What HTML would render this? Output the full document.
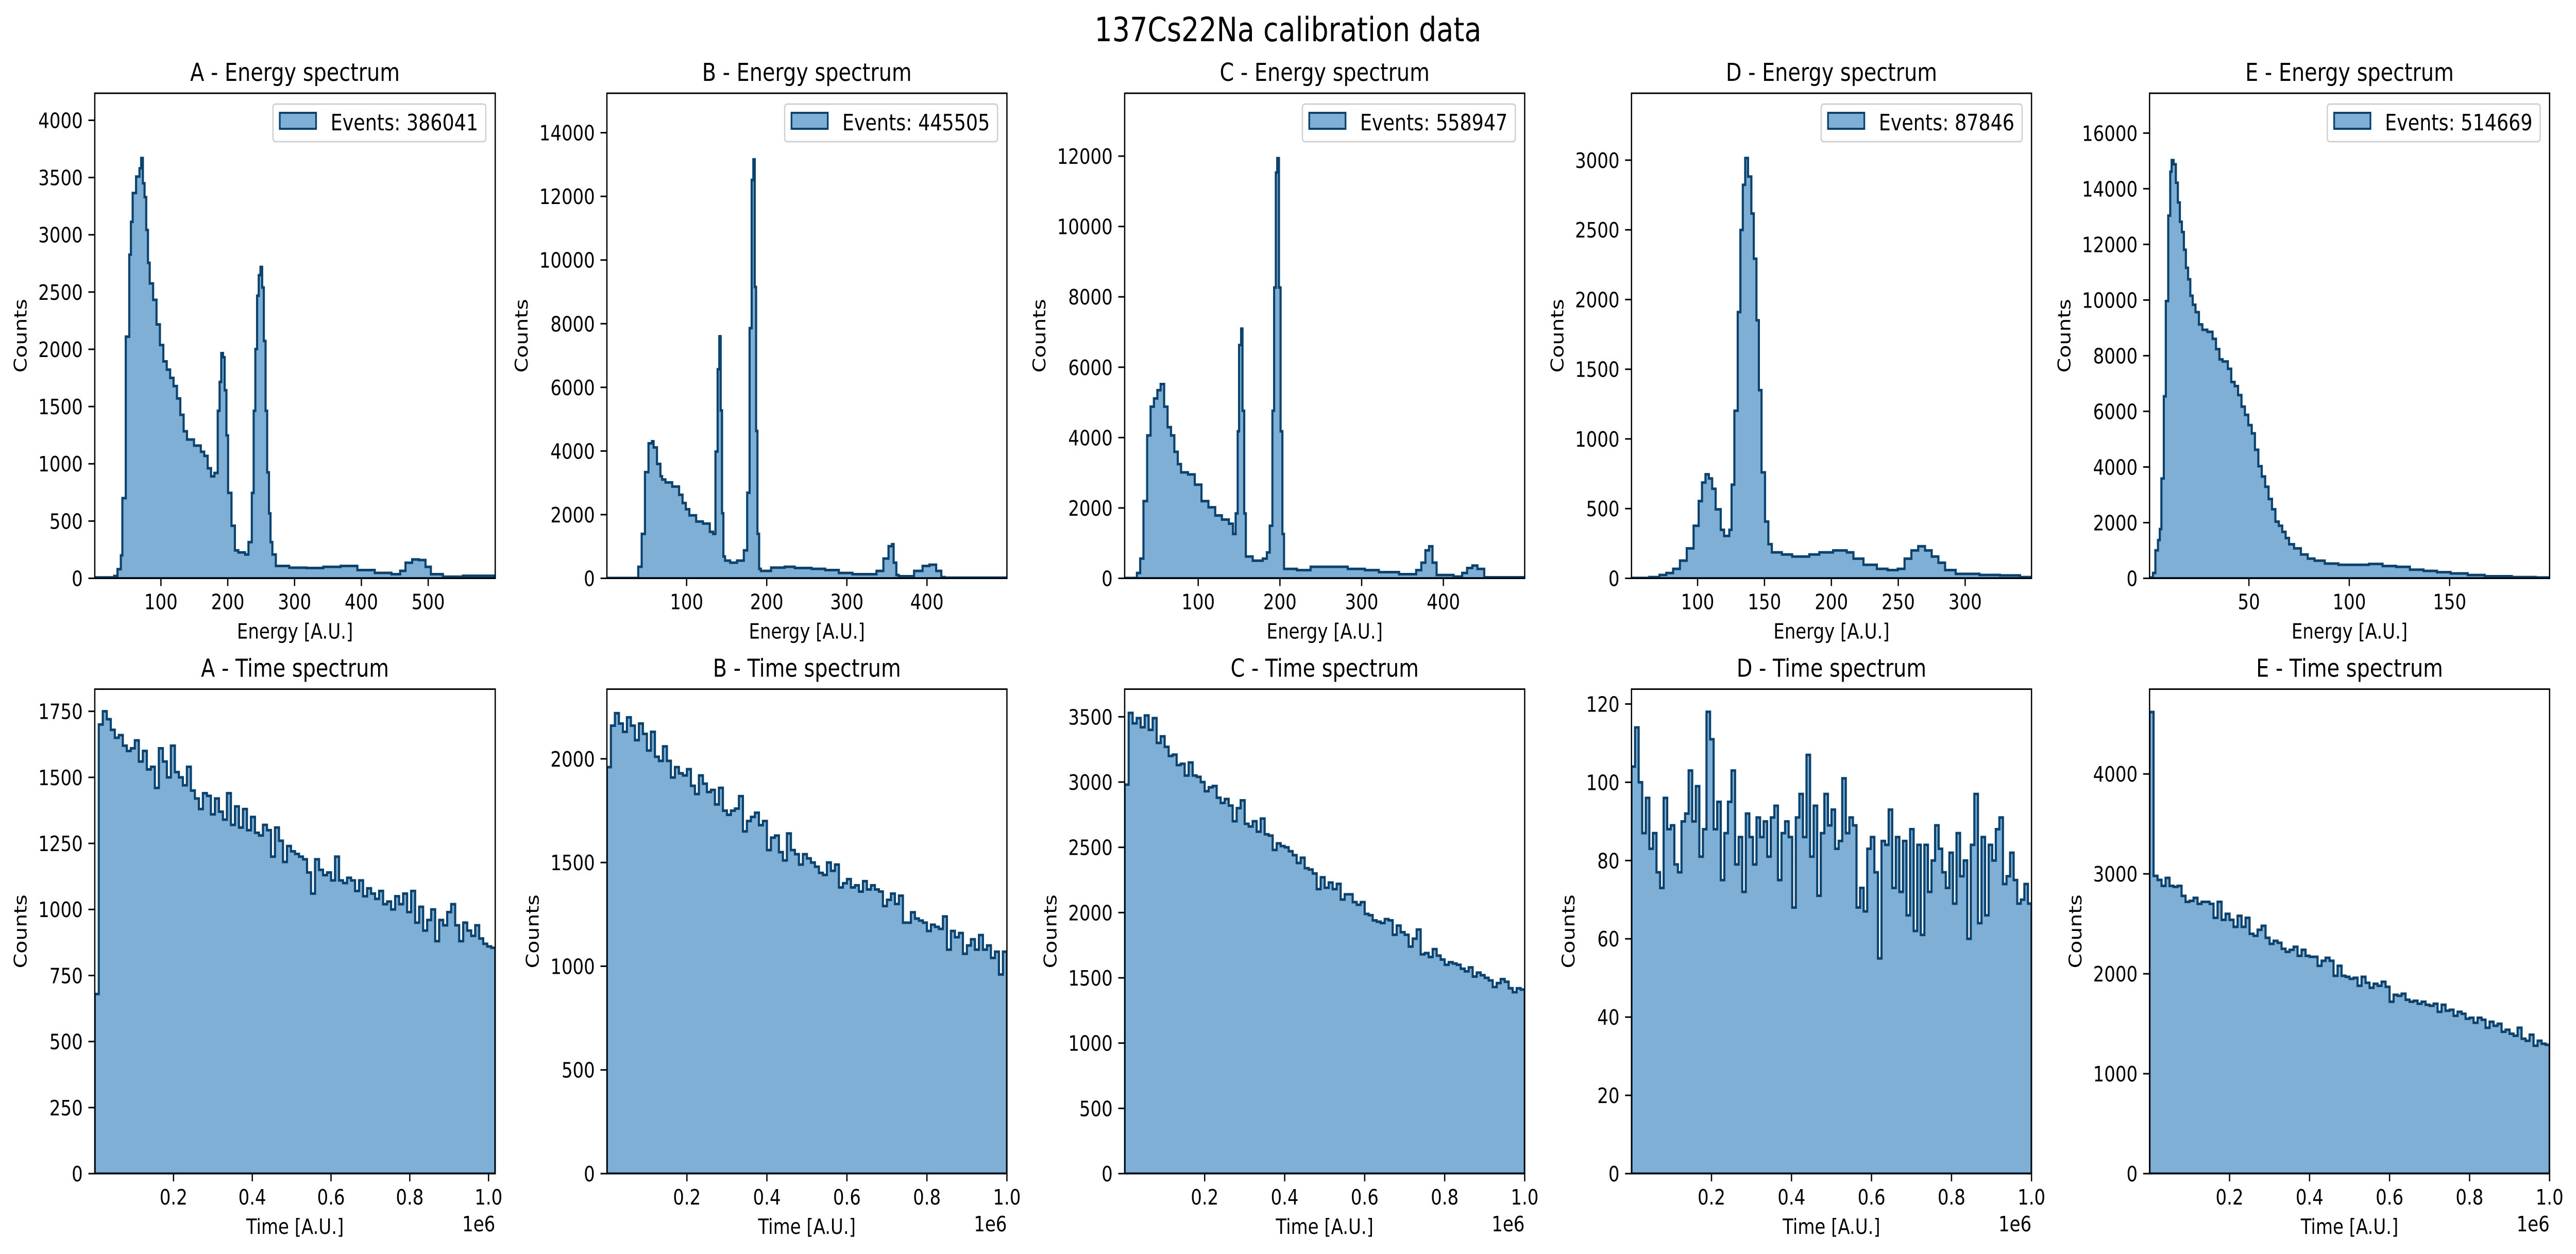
<!DOCTYPE html>
<html>
<head>
<meta charset="utf-8">
<meta name="viewport" content="width=device-width, initial-scale=1">
<style>
  html,body{margin:0;padding:0;background:#fff;width:100%;height:100%;overflow:hidden;}
  svg{display:block;width:100vw;height:100vh;}
  text{font-family:"DejaVu Sans","Liberation Sans",sans-serif;fill:#000;}
</style>
</head>
<body>
<svg id="fig" viewBox="0 0 6034 2434" preserveAspectRatio="none" xmlns="http://www.w3.org/2000/svg" overflow="hidden">
  <rect x="0" y="0" width="6034" height="2434" fill="#fff"/>
  <text x="3017" y="80" font-size="65" text-anchor="middle">137Cs22Na calibration data</text>
</svg>
<script>
// ---------- Energy spectra data (bin left edges [A.U.] and counts) ----------
const aEnergyBins = [1,30,35,40,42.3,47.4,52.6,55.1,57.7,62.8,67.9,70.4,73,75.5,78,80.6,83.2,88.3,93.4,98.5,103.6,108.7,113.8,118.9,124,129,134,139,149.5,159.7,164.8,170,175,180,185,187.8,190.3,192.9,195.4,198,200.5,205.6,210.7,215.8,226,231,236,238.8,241.3,243.9,246.4,249,251.5,254,256.6,259,261.7,264,266.8,272,292,318,343,369,394,420,445,458,466,476,486,496,504,522,552];
const aEnergyCounts = [8,20,80,200,700,2110,2826,3113,3365,3508,3580,3670,3450,3329,3042,2755,2575,2432,2217,2037,1894,1822,1750,1679,1571,1428,1284,1212,1159,1105,1069,961,890,920,1463,1715,1966,1930,1643,1248,746,459,244,226,208,316,746,1463,2002,2468,2647,2719,2540,2073,1463,925,567,316,208,108,93,90,100,108,72,47,36,65,136,165,160,100,36,14,22];

const bEnergyBins = [0.5,39.6,43.9,48,52.4,56.7,58.8,63,67.3,69.4,73.6,82,90.6,94.9,99,103.4,111.9,120.4,128.9,133,136,138.7,140.8,142.5,144.2,145.9,148,154.4,162.9,171.4,175.6,178.6,181.2,183.3,185,186.7,188.4,190.5,192.6,205.4,222.4,235,256,273,290,307,337,345.6,352,356.3,358.4,361.8,364.8,383.9,394.5,403,411.5,417.9,422];
const bEnergyCounts = [10,362,1396,3336,4241,4305,4112,3594,3207,3103,3013,2883,2625,2366,2172,1978,1784,1720,1461,1396,3982,6568,7603,5275,2043,685,556,491,556,879,2689,7861,12516,13163,9154,4629,1396,297,233,336,362,323,297,259,168,129,233,621,1009,1073,491,103,65,233,388,427,233,39,20];

const cEnergyBins = [10,25,29,33,37.5,41.7,45.8,50,54,58.3,62.5,66.7,70.8,75,79,87.5,95.8,104,112.5,120.8,129,137.5,142.5,145.8,148.3,150,152.5,154.2,156.3,158.3,166.7,179,184,187.5,190.8,192.9,195,196.7,198.8,200.8,203,205,220.8,237.5,250,283,304,321,345.8,366.7,373,378,382.5,386.7,391.7,412.5,423,429,435.4,441.7,450];
const cEnergyCounts = [10,152,560,2195,4062,4879,5113,5346,5521,4879,4296,4062,3595,3245,3012,2953,2661,2195,2019,1786,1669,1553,1261,1844,4179,6630,7097,4763,1844,619,502,560,735,1494,4763,8265,11533,11941,8265,4179,1261,268,233,327,327,268,233,175,117,233,444,794,910,444,93,50,152,292,362,268,30];

const dEnergyBins = [50.6,63.9,71.5,76.6,81.7,86.8,91.9,97,100.8,103.3,105.9,108.4,110.9,113.5,117.3,119.8,123.7,125.4,127.5,130,132,133.8,135.6,137.7,140.2,142,144,145.8,147.8,150.4,152.9,155.5,163,170.7,183.5,191,201.3,211.5,216.5,224,234,242,249.6,254.7,259.8,264.9,270,275,280,285,292.9,310.7,326,341];
const dEnergyCounts = [3,9,24,38,68,127,215,377,554,687,746,716,642,495,348,304,348,672,1202,1910,2499,2823,3015,2882,2617,2293,1851,1350,760,407,245,186,171,156,171,186,200,186,141,97,68,59,68,141,200,230,200,156,112,59,32,24,21,9];

const eEnergyBins = [0.5,2.2,3.4,4.7,5.6,6.4,7.6,8.6,9.8,10.8,11.5,12.5,13.6,14.6,15.6,16.6,17.6,18.6,19.7,20.8,22,23.4,25.1,26.8,29.3,31.9,33.6,35.3,36.9,39.5,41.2,42.9,44.6,46.3,48,49.7,51.4,53,54.7,56.4,58.1,59.8,61.5,63.2,64.9,66.6,68.3,70,72.5,75.9,79.3,82.7,87.8,94.6,103,109.8,116.6,123.4,130.2,137,143.7,150.5,159,167.5,181,192.9];
const eEnergyCounts = [30,192,1004,1373,1771,3587,6539,9963,13033,14612,15026,14878,14214,13505,12812,12443,11808,11158,10745,10155,9830,9564,9122,8930,8856,8605,8236,7867,7793,7528,7055,6908,6583,6170,5874,5505,5210,4620,4029,3660,3291,2849,2480,2037,1889,1668,1446,1225,1077,856,708,635,531,487,487,517,443,413,310,266,221,177,118,74,44,30];

// ---------- Time spectra data (equal-width bins over the axis range) ----------
const aTimeCounts = [680,1700,1750,1720,1680,1650,1660,1620,1600,1610,1640,1560,1600,1530,1540,1460,1610,1560,1500,1620,1520,1500,1470,1540,1450,1420,1380,1440,1430,1360,1420,1370,1340,1440,1320,1390,1310,1380,1300,1350,1290,1280,1320,1300,1200,1310,1260,1180,1240,1220,1210,1200,1190,1140,1060,1190,1150,1130,1140,1110,1200,1110,1100,1120,1110,1070,1110,1050,1080,1060,1040,1070,1020,1030,1000,1050,1020,1060,990,1070,950,1010,920,960,1000,880,960,940,990,1020,940,880,950,920,900,940,890,870,860,855];
const bTimeCounts = [1960,2160,2220,2170,2130,2200,2160,2090,2170,2120,2040,2130,2010,1990,2060,1990,1910,1960,1930,1920,1950,1870,1830,1920,1880,1840,1850,1780,1860,1750,1730,1750,1760,1820,1650,1700,1720,1740,1680,1700,1560,1620,1630,1550,1510,1640,1560,1540,1490,1540,1520,1500,1480,1450,1440,1500,1460,1490,1380,1400,1420,1380,1390,1360,1410,1370,1390,1370,1360,1290,1320,1350,1300,1340,1210,1210,1260,1230,1220,1210,1170,1200,1190,1180,1240,1080,1170,1140,1160,1060,1100,1130,1080,1150,1080,1100,1040,1070,960,1070];
const cTimeCounts = [2980,3530,3450,3490,3420,3510,3400,3490,3300,3350,3270,3200,3210,3130,3140,3050,3150,3050,3040,3000,2930,2960,2970,2880,2840,2870,2820,2700,2800,2860,2680,2660,2700,2620,2720,2600,2590,2480,2530,2510,2500,2470,2440,2380,2420,2340,2330,2300,2180,2270,2190,2230,2180,2220,2100,2140,2140,2080,2060,2080,1990,1980,1940,1930,1920,1950,1940,1830,1900,1850,1830,1740,1800,1870,1680,1690,1660,1720,1670,1640,1600,1620,1610,1600,1570,1550,1580,1510,1540,1520,1500,1480,1430,1460,1490,1470,1420,1390,1420,1410];
const dTimeCounts = [104,114,100,87,96,83,87,77,73,96,88,89,79,77,90,92,103,90,99,81,88,118,111,88,95,75,87,95,103,79,86,72,92,86,79,91,86,90,81,91,94,75,87,90,86,68,91,97,86,107,81,94,71,87,97,89,93,83,85,101,87,91,89,68,73,67,83,86,77,55,85,84,93,73,86,72,85,66,88,62,84,61,84,72,80,89,83,77,73,82,69,87,76,80,60,84,97,64,86,66,84,80,88,91,74,76,82,75,69,70,74,69];
const eTimeCounts = [4620,2980,2940,2880,2960,2880,2870,2880,2780,2720,2730,2760,2700,2720,2720,2700,2560,2720,2540,2600,2540,2470,2580,2470,2560,2400,2380,2440,2480,2360,2300,2330,2310,2250,2220,2240,2270,2180,2240,2180,2170,2170,2080,2130,2160,2130,1980,2080,1980,1970,1950,1960,1880,1970,1910,1860,1900,1880,1920,1870,1720,1790,1780,1800,1740,1720,1730,1700,1720,1690,1680,1700,1620,1690,1630,1640,1580,1620,1600,1550,1560,1510,1560,1540,1460,1520,1480,1500,1420,1440,1400,1380,1460,1350,1330,1390,1280,1330,1300,1290];

// ---------- Tick values ----------
const aEnergyXTicks = [100,200,300,400,500];
const aEnergyYTicks = [0,500,1000,1500,2000,2500,3000,3500,4000];
const bEnergyXTicks = [100,200,300,400];
const bEnergyYTicks = [0,2000,4000,6000,8000,10000,12000,14000];
const cEnergyXTicks = [100,200,300,400];
const cEnergyYTicks = [0,2000,4000,6000,8000,10000,12000];
const dEnergyXTicks = [100,150,200,250,300];
const dEnergyYTicks = [0,500,1000,1500,2000,2500,3000];
const eEnergyXTicks = [50,100,150];
const eEnergyYTicks = [0,2000,4000,6000,8000,10000,12000,14000,16000];
const timeXTicks = [200000,400000,600000,800000,1000000];
const timeXTickLabels = ["0.2","0.4","0.6","0.8","1.0"];
const aTimeYTicks = [0,250,500,750,1000,1250,1500,1750];
const bTimeYTicks = [0,500,1000,1500,2000];
const cTimeYTicks = [0,500,1000,1500,2000,2500,3000,3500];
const dTimeYTicks = [0,20,40,60,80,100,120];
const eTimeYTicks = [0,1000,2000,3000,4000];
const eventCounts = ["386041","445505","558947","87846","514669"];
const detectorNames = ["A","B","C","D","E"];

// ---------- Layout ----------
const NS = "http://www.w3.org/2000/svg";
const svg = document.getElementById("fig");
const FILL = "#7fafd4", EDGE = "#0b426e";
const lefts = [222, 1421.6, 2634.4, 3821.6, 5035.1];
const widths = [938, 937, 937, 937, 937];
const rowTop = [181, 1337.6], rowBot = [1122.5, 2278];

function el(tag, attrs, parent) {
  const e = document.createElementNS(NS, tag);
  for (const k in attrs) e.setAttribute(k, attrs[k]);
  (parent || svg).appendChild(e);
  return e;
}

function drawPanel(idx, row, xmin, xmax, ymax, edges, counts, xTicks, xLabels, yTicks, title, xlabel, legendCount, kind) {
  const L = lefts[idx], W = widths[idx], T = rowTop[row], B = rowBot[row], H = B - T;
  const sx = v => L + (v - xmin) / (xmax - xmin) * W;
  const sy = v => B - v / ymax * H;
  const g = el("g", {});
  
  

  const cid = "clip" + idx + "_" + row;
  const cp = el("clipPath", {id: cid}, g);
  el("rect", {x: L, y: T, width: W, height: H}, cp);

  let d = "M" + sx(edges[0]) + "," + sy(0);
  for (let i = 0; i < counts.length; i++) {
    const x0 = sx(edges[i]);
    const x1 = sx(i + 1 < edges.length ? edges[i + 1] : xmax);
    d += " L" + x0 + "," + sy(counts[i]) + " L" + x1 + "," + sy(counts[i]);
  }
  d += " L" + sx(i0end(edges, counts, xmax)) + "," + sy(0) + " Z";
  const hist = el("path", {d: d, fill: FILL, stroke: EDGE, "stroke-width": 5, "stroke-linejoin": "miter", "clip-path": "url(#" + cid + ")"}, g);
  
  

  const frame = el("rect", {x: L, y: T, width: W, height: H, fill: "none", stroke: "#000", "stroke-width": 3}, g);
  
  

  xTicks.forEach((v, i) => {
    const x = sx(v);
    el("line", {x1: x, y1: B, x2: x, y2: B + 15, stroke: "#000", "stroke-width": 3}, g);
    const t = el("text", {x: x, y: B + 60, "font-size": 41, "text-anchor": "middle"}, g);
    t.textContent = xLabels ? xLabels[i] : String(v);
    
    
  });
  let maxChars = 0;
  yTicks.forEach(v => {
    const y = sy(v);
    el("line", {x1: L - 15, y1: y, x2: L, y2: y, stroke: "#000", "stroke-width": 3}, g);
    const t = el("text", {x: L - 28, y: y + 15, "font-size": 41, "text-anchor": "end"}, g);
    t.textContent = String(v);
    
    
    maxChars = Math.max(maxChars, String(v).length);
  });
  const tt = el("text", {x: L + W / 2, y: T - 24, "font-size": 48, "text-anchor": "middle"}, g);
  tt.textContent = title;
  
  
  const xl = el("text", {x: L + W / 2, y: B + 117, "font-size": 41, "text-anchor": "middle"}, g);
  xl.textContent = xlabel;
  
  
  const yx = L - 70 - maxChars * 26, yy = T + H / 2;
  const yl = el("text", {x: yx, y: yy, "font-size": 41, "text-anchor": "middle", "dominant-baseline": "central", transform: "rotate(-90 " + yx + " " + yy + ")"}, g);
  yl.textContent = "Counts";
  
  

  if (kind === "time") {
    const off = el("text", {x: L + W, y: B + 112, "font-size": 41, "text-anchor": "end"}, g);
    off.textContent = "1e6";
    
    
  }

  if (legendCount) {
    const lg = el("g", {}, g);
    
    
    const box = el("rect", {x: L, y: T + 21, width: 100, height: 73, rx: 6, fill: "#fff", "fill-opacity": 0.8, stroke: "#d0d0d0", "stroke-width": 3}, lg);
    const txt = el("text", {x: L + 100, y: T + 72, "font-size": 44}, lg);
    txt.textContent = "Events: " + legendCount;
    
    
    let tw = 22 * 14 + 10;
    try { const m = txt.getComputedTextLength(); if (m > 0) tw = m; } catch (e) {}
    const right = L + W - 22;
    const bw = 16 + 85 + 34 + tw + 18;
    const bx = right - bw;
    box.setAttribute("x", bx);
    box.setAttribute("width", bw);
    const patch = el("rect", {x: bx + 16, y: T + 38, width: 85, height: 31, fill: FILL, stroke: EDGE, "stroke-width": 4}, lg);
    
    
    txt.setAttribute("x", bx + 16 + 85 + 34);
  }
}
function i0end(edges, counts, xmax) {
  return counts.length < edges.length ? edges[counts.length] : xmax;
}
function timeEdges(counts, xmax) {
  const e = [];
  for (let i = 0; i < counts.length; i++) e.push(i * xmax / counts.length);
  return e;
}

drawPanel(0, 0, 1, 600.3, 4236, aEnergyBins, aEnergyCounts, aEnergyXTicks, null, aEnergyYTicks, "A - Energy spectrum", "Energy [A.U.]", eventCounts[0], "energy");
drawPanel(1, 0, 0.5, 499.8, 15240, bEnergyBins, bEnergyCounts, bEnergyXTicks, null, bEnergyYTicks, "B - Energy spectrum", "Energy [A.U.]", eventCounts[1], "energy");
drawPanel(2, 0, 10, 499.5, 13787, cEnergyBins, cEnergyCounts, cEnergyXTicks, null, cEnergyYTicks, "C - Energy spectrum", "Energy [A.U.]", eventCounts[2], "energy");
drawPanel(3, 0, 50.6, 349.6, 3480, dEnergyBins, dEnergyCounts, dEnergyXTicks, null, dEnergyYTicks, "D - Energy spectrum", "Energy [A.U.]", eventCounts[3], "energy");
drawPanel(4, 0, 0.5, 199.8, 17431, eEnergyBins, eEnergyCounts, eEnergyXTicks, null, eEnergyYTicks, "E - Energy spectrum", "Energy [A.U.]", eventCounts[4], "energy");

drawPanel(0, 1, 0, 1017000, 1834, timeEdges(aTimeCounts, 1017000), aTimeCounts, timeXTicks, timeXTickLabels, aTimeYTicks, "A - Time spectrum", "Time [A.U.]", null, "time");
drawPanel(1, 1, 0, 1000000, 2336, timeEdges(bTimeCounts, 1000000), bTimeCounts, timeXTicks, timeXTickLabels, bTimeYTicks, "B - Time spectrum", "Time [A.U.]", null, "time");
drawPanel(2, 1, 0, 1000000, 3712, timeEdges(cTimeCounts, 1000000), cTimeCounts, timeXTicks, timeXTickLabels, cTimeYTicks, "C - Time spectrum", "Time [A.U.]", null, "time");
drawPanel(3, 1, 0, 1000000, 123.8, timeEdges(dTimeCounts, 1000000), dTimeCounts, timeXTicks, timeXTickLabels, dTimeYTicks, "D - Time spectrum", "Time [A.U.]", null, "time");
drawPanel(4, 1, 0, 1000000, 4849, timeEdges(eTimeCounts, 1000000), eTimeCounts, timeXTicks, timeXTickLabels, eTimeYTicks, "E - Time spectrum", "Time [A.U.]", null, "time");
</script>
</body>
</html>
